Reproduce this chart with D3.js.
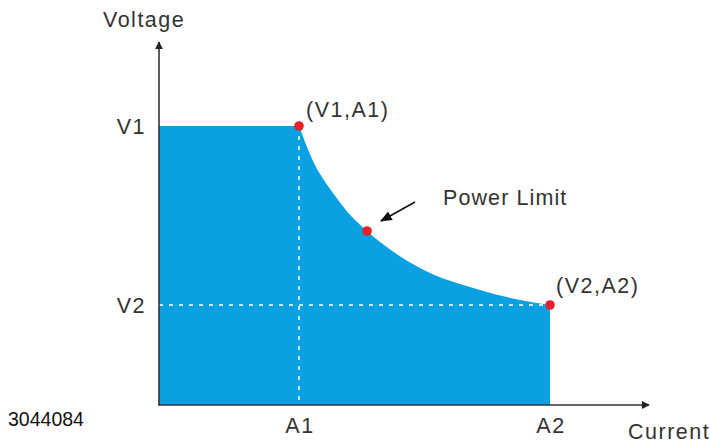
<!DOCTYPE html>
<html>
<head>
    <meta charset="UTF-8" />
    <title>Power Limit</title>
    <style>
        body { margin: 0; background: #fff; }
        svg { display: block; font-family: "Liberation Sans", Arial, sans-serif; }
        .lbl { fill: #333; font-size: 21.5px; letter-spacing: 1.5px; }
    </style>
    <script src="https://cdn.jsdelivr.net/npm/d3@7"></script>
</head>
<body>
    <div id="chart"></div>
    <script>
        // curve (current, voltage) in relative units
        let curveCurrent = [1.0, 1.10, 1.243, 1.379, 1.486, 1.579, 1.864, 2.293, 2.579, 2.793];
        let curveVoltage = [2.79, 2.44, 2.12, 1.88, 1.74, 1.63, 1.37, 1.15, 1.05, 1.0];
        let tickNames = ["A1", "A2"];
        let tickCurrent = [1.0, 2.793];
        let levelNames = ["V1", "V2"];
        let levelVoltage = [2.79, 1.0];
        let dotCurrent = [1.0, 1.486, 2.793];
        let dotVoltage = [2.79, 1.74, 1.0];

        let width = 710, height = 443;
        let svg = d3.select("#chart").append("svg")
            .attr("width", width)
            .attr("height", height);

        let x = d3.scaleLinear().domain([0, 3.5]).range([159, 649]);
        let y = d3.scaleLinear().domain([0, 3.63]).range([405, 42]);

        let pts = curveCurrent.map((c, i) => ({ c: c, v: curveVoltage[i] }));

        // constant voltage part
        svg.append("rect")
            .attr("x", x(0))
            .attr("y", y(levelVoltage[0]))
            .attr("width", x(tickCurrent[0]) - x(0) + 0.5)
            .attr("height", y(0) - y(levelVoltage[0]))
            .attr("fill", "#0aa0e2");

        // power limited part
        let area = d3.area()
            .x(d => x(d.c))
            .y0(y(0))
            .y1(d => y(d.v))
            .curve(d3.curveMonotoneX);

        svg.append("path")
            .datum(pts)
            .attr("d", area)
            .attr("fill", "#0aa0e2");

        // dashed guides
        svg.append("line")
            .attr("x1", x(tickCurrent[0])).attr("x2", x(tickCurrent[0]))
            .attr("y1", y(levelVoltage[0])).attr("y2", y(0))
            .attr("stroke", "#fff").attr("stroke-width", 1.5)
            .attr("stroke-dasharray", "4,6");
        svg.append("line")
            .attr("x1", x(0)).attr("x2", x(tickCurrent[1]))
            .attr("y1", y(levelVoltage[1])).attr("y2", y(levelVoltage[1]))
            .attr("stroke", "#fff").attr("stroke-width", 1.5)
            .attr("stroke-dasharray", "4,6");

        // arrow markers
        let defs = svg.append("defs");
        defs.append("marker")
            .attr("id", "head")
            .attr("viewBox", "0 0 10 10")
            .attr("refX", 9).attr("refY", 5)
            .attr("markerWidth", 8).attr("markerHeight", 8)
            .attr("markerUnits", "userSpaceOnUse")
            .attr("orient", "auto")
            .append("path")
            .attr("d", "M0,0L10,5L0,10Z")
            .attr("fill", "#222");
        defs.append("marker")
            .attr("id", "head2")
            .attr("viewBox", "0 0 10 10")
            .attr("refX", 9).attr("refY", 5)
            .attr("markerWidth", 12).attr("markerHeight", 12)
            .attr("markerUnits", "userSpaceOnUse")
            .attr("orient", "auto")
            .append("path")
            .attr("d", "M0,1L10,5L0,9Z")
            .attr("fill", "#111");

        // axes
        svg.append("line")
            .attr("x1", x(0)).attr("y1", y(0))
            .attr("x2", x(0)).attr("y2", y.range()[1])
            .attr("stroke", "#333").attr("stroke-width", 1.6)
            .attr("marker-end", "url(#head)");
        svg.append("line")
            .attr("x1", x(0) - 1).attr("y1", y(0))
            .attr("x2", x.range()[1]).attr("y2", y(0))
            .attr("stroke", "#333").attr("stroke-width", 1.6)
            .attr("marker-end", "url(#head)");

        // tick labels
        svg.selectAll(".xl")
            .data(tickNames)
            .enter()
            .append("text")
            .attr("class", "lbl")
            .attr("x", (d, i) => x(tickCurrent[i]) + 1)
            .attr("y", 433)
            .attr("text-anchor", "middle")
            .text(d => d);

        svg.selectAll(".yl")
            .data(levelNames)
            .enter()
            .append("text")
            .attr("class", "lbl")
            .attr("x", 146)
            .attr("y", (d, i) => y(levelVoltage[i]) + 8)
            .attr("text-anchor", "end")
            .text(d => d);

        svg.append("text").attr("class", "lbl")
            .attr("x", 103).attr("y", 27)
            .text("Voltage");
        svg.append("text").attr("class", "lbl")
            .attr("x", 628).attr("y", 439)
            .text("Current");
        svg.append("text")
            .attr("x", 8).attr("y", 426)
            .attr("fill", "#111")
            .style("font-size", "19.5px")
            .text("3044084");

        svg.append("text").attr("class", "lbl")
            .attr("x", 306).attr("y", 117)
            .text("(V1,A1)");
        svg.append("text").attr("class", "lbl")
            .attr("x", 556).attr("y", 293)
            .text("(V2,A2)");
        svg.append("text").attr("class", "lbl")
            .attr("x", 443).attr("y", 205)
            .style("letter-spacing", "1.1px")
            .text("Power Limit");

        // pointer arrow
        svg.append("line")
            .attr("x1", 415).attr("y1", 202)
            .attr("x2", 381).attr("y2", 221)
            .attr("stroke", "#111").attr("stroke-width", 1.6)
            .attr("marker-end", "url(#head2)");

        // red dots
        svg.selectAll(".dot")
            .data(dotCurrent)
            .enter()
            .append("circle")
            .attr("cx", d => x(d))
            .attr("cy", (d, i) => y(dotVoltage[i]))
            .attr("r", 4.8)
            .attr("fill", "#e8202a");
    </script>
</body>
</html>
